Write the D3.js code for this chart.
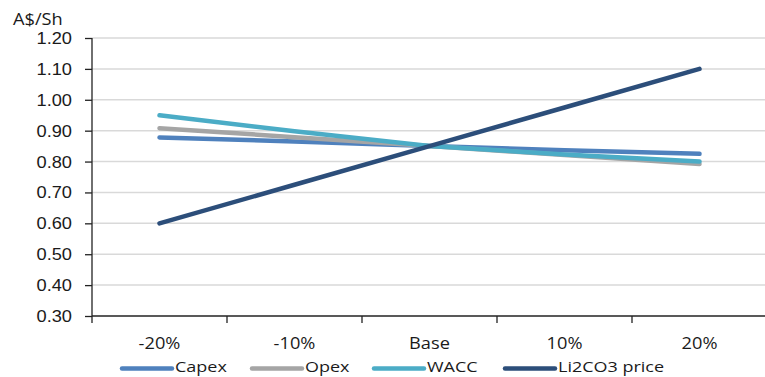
<!DOCTYPE html>
<html>
<head>
<meta charset="utf-8">
<script src="https://cdn.jsdelivr.net/npm/d3@7"></script>
<style>
  html, body { margin: 0; padding: 0; background: #fff; }
  svg { display: block; font-family: "Open Sans", Lato, sans-serif; }
</style>
</head>
<body>
<svg id="chart" width="765" height="377"></svg>
<script>
// Sensitivity of valuation (A$/Sh) to key inputs
const categories = ["-20%", "-10%", "Base", "10%", "20%"];
const capex  = [0.878, 0.865, 0.850, 0.837, 0.825];
const opex   = [0.908, 0.879, 0.850, 0.821, 0.792];
const wacc   = [0.950, 0.898, 0.850, 0.823, 0.800];
const li2co3 = [0.600, 0.725, 0.850, 0.975, 1.100];
const seriesNames = ["Capex", "Opex", "WACC", "Li2CO3 price"];
const seriesColors = ["#4f81bd", "#a5a5a5", "#4bacc6", "#2c4e7a"];
const yTicks = [0.30, 0.40, 0.50, 0.60, 0.70, 0.80, 0.90, 1.00, 1.10, 1.20];
const yLabel = "A$/Sh";

const seriesValues = [capex, opex, wacc, li2co3];

const svg = d3.select("#chart");
const margin = { left: 92, right: -2, top: 38, bottom: 61 };
const W = 765, H = 377;
const ink = "#1a1a1a";

const x = d3.scaleBand().domain(categories)
  .range([margin.left, W - margin.right]).padding(0);
const y = d3.scaleLinear().domain([0.30, 1.20])
  .range([H - margin.bottom, margin.top]);

// horizontally stretched text anchored at (px, py)
function stretchedText(g, px, py, txt, anchor, size, sx) {
  return g.append("text")
    .attr("transform", `translate(${px},${py}) scale(${sx || 1.14},1)`)
    .attr("text-anchor", anchor || "start")
    .attr("fill", ink).style("font-size", (size || 16) + "px").text(txt);
}

// gridlines
svg.append("g").selectAll("line").data(yTicks.slice(1)).join("line")
  .attr("x1", margin.left).attr("x2", W)
  .attr("y1", d => y(d)).attr("y2", d => y(d))
  .attr("stroke", "#d9d9d9").attr("stroke-width", 1.5);

// y axis
const yAxis = svg.append("g").attr("transform", `translate(${margin.left},0)`)
  .call(d3.axisLeft(y).tickValues(yTicks).tickFormat(d3.format(".2f")).tickSize(7));
yAxis.select(".domain").attr("stroke", "#222").attr("stroke-width", 1.3)
  .attr("d", `M0,${y(1.20)}V${y(0.30) + 7}`);
yAxis.selectAll(".tick line").attr("stroke", "#222").attr("stroke-width", 1.3);
yAxis.selectAll(".tick text").remove();
yAxis.selectAll(".tick").each(function(d) {
  stretchedText(d3.select(this), -20, 5.5, d3.format(".2f")(d), "end");
});

// x axis with ticks between categories
const xAxisG = svg.append("g").attr("transform", `translate(0,${y(0.30)})`);
xAxisG.append("line").attr("x1", margin.left).attr("x2", W)
  .attr("y1", 0).attr("y2", 0).attr("stroke", "#222").attr("stroke-width", 1.3);
const boundaries = categories.map(c => x(c)).concat([x(categories[categories.length - 1]) + x.bandwidth()]);
xAxisG.selectAll("line.tk").data(boundaries.slice(1)).join("line").attr("class", "tk")
  .attr("x1", d => d).attr("x2", d => d).attr("y1", 0).attr("y2", 7)
  .attr("stroke", "#222").attr("stroke-width", 1.3);
categories.forEach(c => stretchedText(xAxisG, x(c) + x.bandwidth() / 2, 33, c, "middle"));

// y-axis title
stretchedText(svg, 13, 25, yLabel, "start");

// lines
const line = d3.line().x((d, i) => x(categories[i]) + x.bandwidth() / 2).y(d => y(d));
svg.append("g").selectAll("path").data(seriesValues).join("path")
  .attr("d", d => line(d)).attr("fill", "none")
  .attr("stroke", (d, i) => seriesColors[i]).attr("stroke-width", 4.5)
  .attr("stroke-linecap", "round").attr("stroke-linejoin", "round");

// legend
const legendX = [122, 252, 374, 505];
const leg = svg.append("g").selectAll("g").data(seriesNames).join("g")
  .attr("transform", (d, i) => `translate(${legendX[i]},368.5)`);
leg.append("line").attr("x1", 0).attr("x2", 50).attr("y1", 0).attr("y2", 0)
  .attr("stroke", (d, i) => seriesColors[i]).attr("stroke-width", 4.5).attr("stroke-linecap", "round");
leg.each(function(d) { stretchedText(d3.select(this), 53, 3.5, d, "start", 15, 1.2); });
</script>
</body>
</html>
